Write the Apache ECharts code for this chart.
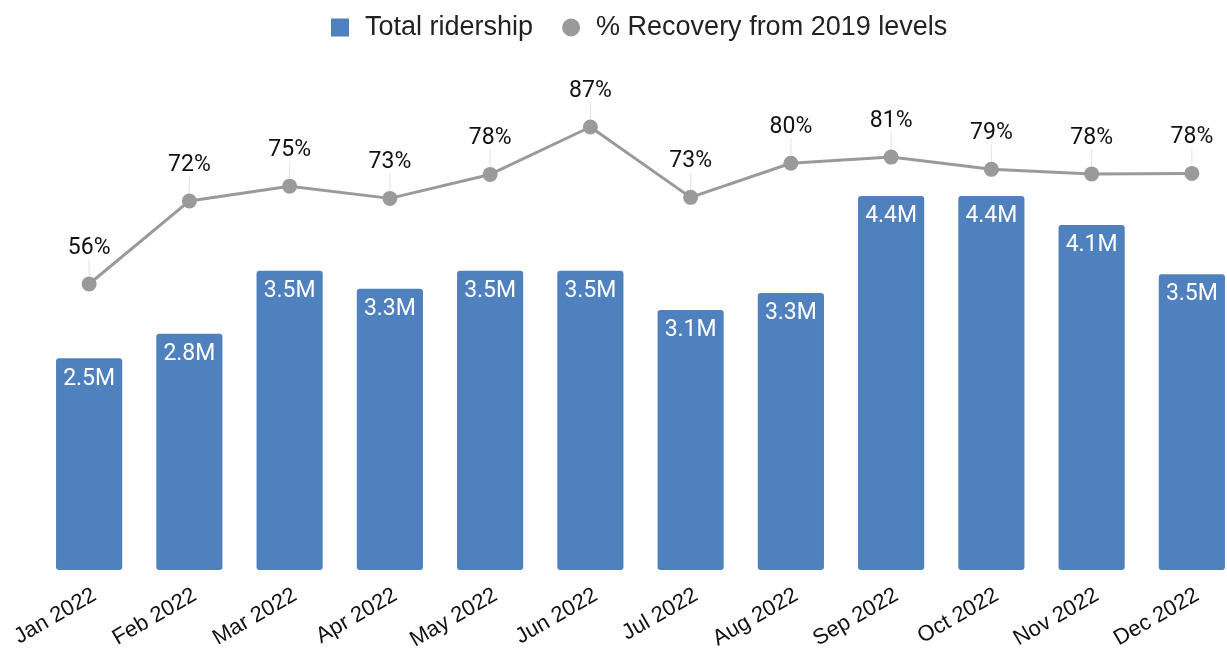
<!DOCTYPE html>
<html>
<head>
<meta charset="utf-8">
<script src="https://cdn.jsdelivr.net/npm/echarts@6/dist/echarts.min.js"></script>
<style>
html,body{margin:0;padding:0;background:#fff;overflow:hidden;}
#chart{width:1243px;height:653px;}
</style>
</head>
<body>
<div id="chart"></div>
<script>
var months = ['Jan 2022', 'Feb 2022', 'Mar 2022', 'Apr 2022', 'May 2022', 'Jun 2022',
    'Jul 2022', 'Aug 2022', 'Sep 2022', 'Oct 2022', 'Nov 2022', 'Dec 2022'];
// millions of riders
var ridership = [2.49, 2.78, 3.52, 3.31, 3.52, 3.52, 3.06, 3.26, 4.40, 4.40, 4.06, 3.48];
// percent of 2019 levels
var recovery = [56.1, 72.4, 75.3, 72.9, 77.6, 86.9, 73.1, 79.8, 81.0, 78.6, 77.7, 77.8];

// the original picture is cut off on the right, so the canvas is a bit wider than the window
var myChart = echarts.init(document.getElementById('chart'));
var option = {
    animation: false,
    legend: {
        top: 9,
        left: 326,
        itemGap: 29,
        itemWidth: 18,
        itemHeight: 18,
        textStyle: {fontFamily: 'Liberation Sans', fontSize: 27, color: '#222', padding: [0, 0, 0, 11]},
        data: [
            {name: 'Total ridership', icon: 'rect'},
            {name: '% Recovery from 2019 levels', icon: 'circle'}
        ]
    },
    grid: {
        left: 39,
        right: 1,
        top: 100,
        bottom: 83
    },
    xAxis: {
        type: 'category',
        data: months,
        axisLine: {show: false},
        axisTick: {show: false},
        axisLabel: {
            rotate: 30,
            margin: 14,
            verticalAlign: 'top',
            fontFamily: 'Liberation Sans',
            fontSize: 22,
            color: '#111'
        }
    },
    yAxis: [
        {type: 'value', min: 0, max: 5.53, show: false},
        {type: 'value', min: 0, max: 92.2, show: false}
    ],
    series: [
        {
            name: 'Total ridership',
            type: 'bar',
            barCategoryGap: '34%',
            itemStyle: {color: '#4e81bd', borderRadius: 3},
            label: {
                show: true,
                position: 'insideTop',
                distance: 9,
                color: '#fff',
                fontFamily: 'Roboto',
                fontSize: 23,
                formatter: function (p) { return p.value.toFixed(1) + 'M'; }
            },
            data: ridership
        },
        {
            name: '% Recovery from 2019 levels',
            type: 'line',
            yAxisIndex: 1,
            symbol: 'circle',
            symbolSize: 15,
            lineStyle: {color: '#9a9a9a', width: 3},
            itemStyle: {color: '#9a9a9a'},
            label: {
                show: true,
                position: 'top',
                distance: 4,
                color: '#111',
                fontFamily: 'Roboto',
                fontSize: 23,
                formatter: function (p) { return Math.round(p.value) + '%'; }
            },
            labelLayout: {dy: -13},
            labelLine: {show: true, lineStyle: {color: '#e2e2e2', width: 1}},
            data: recovery
        }
    ]
};
myChart.setOption(option);
</script>
</body>
</html>
